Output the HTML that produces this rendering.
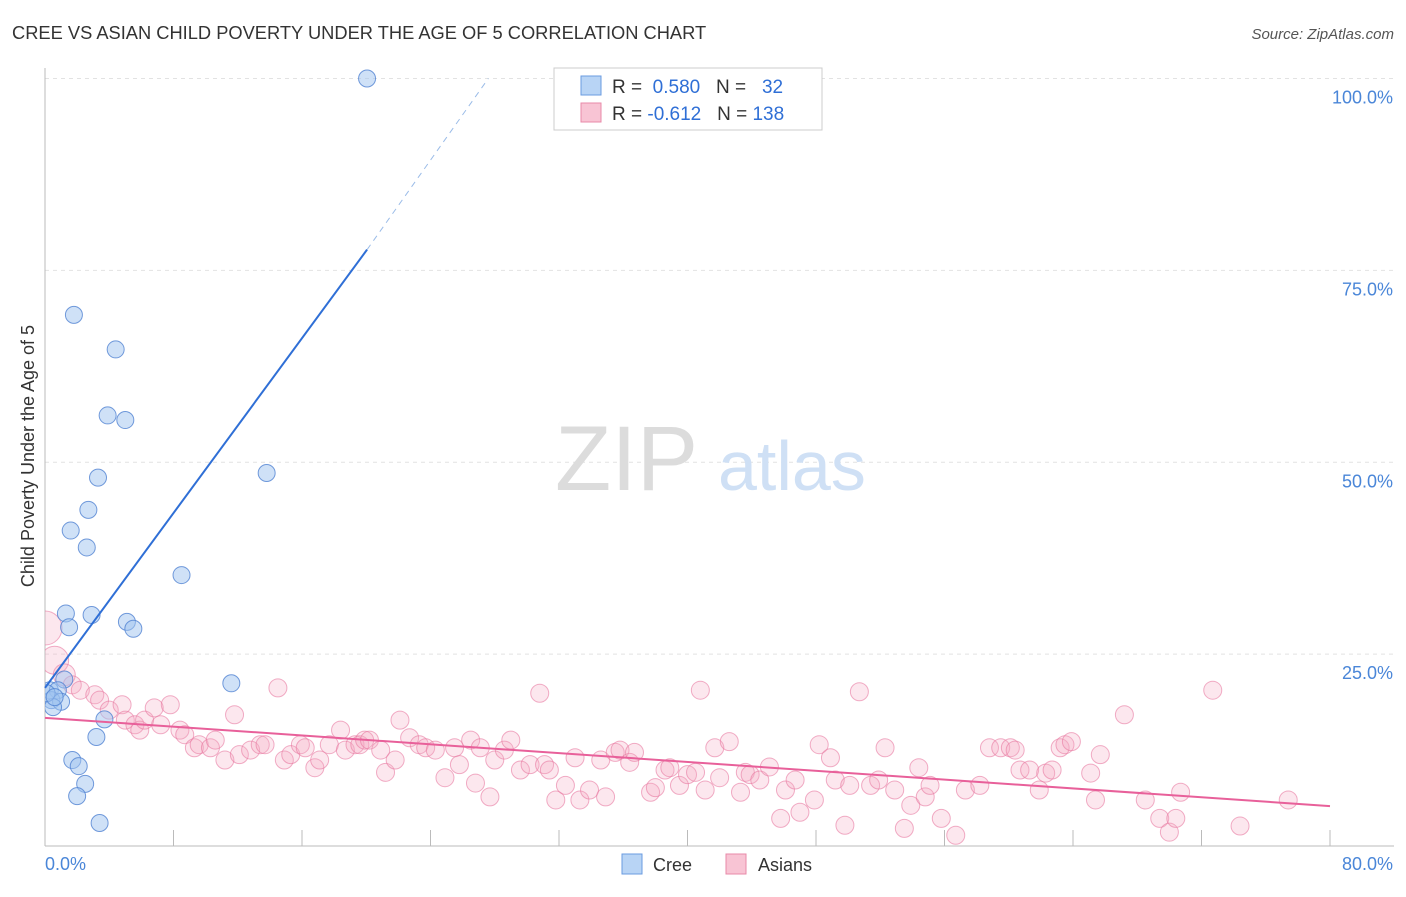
<!DOCTYPE html>
<html><head><meta charset="utf-8">
<style>
html,body{margin:0;padding:0;background:#fff;}
body{width:1406px;height:892px;overflow:hidden;font-family:"Liberation Sans",sans-serif;}
svg text{font-family:"Liberation Sans",sans-serif;}
</style></head>
<body>
<svg id="chart" width="1406" height="892" viewBox="0 0 1406 892">
  <defs><clipPath id="plotclip"><rect x="45" y="60" width="1360" height="786"/></clipPath></defs>
  <text x="12" y="39" font-size="18.3" fill="#333">CREE VS ASIAN CHILD POVERTY UNDER THE AGE OF 5 CORRELATION CHART</text>
  <text x="1394" y="39" font-size="15" fill="#555" font-style="italic" text-anchor="end">Source: ZipAtlas.com</text>
  <g id="grid"></g>
  <g>
    <text x="555" y="490" font-size="92" fill="#dcdcdc" font-family="Liberation Serif">ZIP</text>
    <text x="718" y="490" font-size="70" fill="#cfe0f5">atlas</text>
  </g>
  <text transform="translate(34,456) rotate(-90)" font-size="18" fill="#333" text-anchor="middle">Child Poverty Under the Age of 5</text>
  <g id="axes"></g>
  <g id="asian" clip-path="url(#plotclip)"></g>
  <g id="cree" clip-path="url(#plotclip)"></g>
  <g id="lines"></g>
  <g>
    <rect x="554" y="68" width="268" height="62" fill="#fff" stroke="#ccc"/>
    <rect x="581" y="76" width="20" height="19" fill="#b8d4f5" stroke="#6a9be0"/>
    <text x="612" y="93" font-size="19" fill="#333">R = <tspan fill="#2f6fd6">&#160;0.580</tspan>&#160;&#160;&#160;N = <tspan fill="#2f6fd6">&#160;&#160;32</tspan></text>
    <rect x="581" y="103" width="20" height="19" fill="#f8c4d4" stroke="#e88aa8"/>
    <text x="612" y="120" font-size="19" fill="#333">R = <tspan fill="#2f6fd6">-0.612</tspan>&#160;&#160;&#160;N = <tspan fill="#2f6fd6">138</tspan></text>
  </g>
  <g>
    <rect x="622" y="854" width="20" height="20" fill="#b8d4f5" stroke="#6a9be0"/>
    <text x="653" y="871" font-size="18" fill="#333">Cree</text>
    <rect x="726" y="854" width="20" height="20" fill="#f8c4d4" stroke="#e88aa8"/>
    <text x="758" y="871" font-size="18" fill="#333">Asians</text>
  </g>
</svg>
<script>
const xTicks=[0,8,16,24,32,40,48,56,64,72,80];
const yGrid=[25,50,75,100];
const yTickLabels=["25.0%","50.0%","75.0%","100.0%"];
const xTickLabels=["0.0%","80.0%"];
const creeX=[20.05,1.8,4.4,3.9,5.0,3.3,13.8,2.7,1.6,2.6,8.5,1.3,2.9,1.5,5.1,5.5,1.2,11.6,0.3,0.8,0.4,1.0,0.5,3.7,3.2,1.7,2.1,2.5,2.0,3.4,0.1,0.6];
const creeY=[100,69.2,64.7,56.1,55.5,48.0,48.6,43.8,41.1,38.9,35.3,30.3,30.1,28.5,29.2,28.3,21.7,21.2,20.3,20.3,19.0,18.8,18.1,16.5,14.2,11.2,10.4,8.1,6.5,3.0,19.9,19.4];
const asianX=[0,0.6,1.2,1.7,2.2,3.1,3.4,4.0,4.8,5.0,5.6,5.9,6.2,6.8,7.2,7.8,8.4,8.7,9.3,9.6,10.3,10.6,11.2,11.8,12.1,12.8,13.4,13.7,14.5,14.9,15.3,15.9,16.2,16.8,17.1,17.7,18.4,18.7,19.3,19.6,19.9,20.2,20.9,21.2,21.8,22.1,22.7,23.3,23.7,24.3,24.9,25.5,25.8,26.5,26.8,27.1,27.7,28.0,28.6,29.0,29.6,30.2,30.8,31.1,31.4,31.8,32.4,33.0,33.3,33.9,34.6,34.9,35.5,35.8,36.4,36.7,37.7,38.0,38.6,38.9,39.5,40.0,40.5,40.8,41.1,41.7,42.0,42.6,43.3,43.6,43.9,44.5,45.1,45.8,46.1,46.7,47.0,47.9,48.2,48.9,49.2,49.8,50.1,50.7,51.4,51.9,52.3,52.9,53.5,53.9,54.4,54.8,55.1,55.8,56.7,57.3,58.2,58.8,59.5,60.1,60.4,60.7,61.3,61.9,62.3,62.7,63.2,63.5,63.9,65.1,65.4,65.7,67.2,68.5,69.4,70.0,70.4,70.7,72.7,74.4,77.4];
const asianY=[28.4,24.2,22.3,21.0,20.3,19.7,19.0,17.7,18.4,16.4,15.8,15.1,16.4,18.0,15.8,18.4,15.1,14.5,12.8,13.2,12.8,13.8,11.2,17.1,11.9,12.5,13.2,13.2,20.6,11.2,11.9,13.2,12.8,10.2,11.2,13.2,15.1,12.5,13.2,13.2,13.8,13.8,12.5,9.6,11.2,16.4,14.1,13.2,12.8,12.5,8.9,12.8,10.6,13.8,8.2,12.8,6.4,11.2,12.5,13.8,9.9,10.6,19.9,10.6,9.9,6.0,7.9,11.5,6.0,7.3,11.2,6.4,12.2,12.5,10.9,12.2,7.0,7.6,9.9,10.2,7.9,9.3,9.6,20.3,7.3,12.8,8.9,13.6,7.0,9.6,9.3,8.6,10.3,3.6,7.3,8.6,4.4,6.0,13.2,11.5,8.6,2.7,7.9,20.1,7.9,8.6,12.8,7.3,2.3,5.3,10.2,6.4,7.9,3.6,1.4,7.3,7.9,12.8,12.8,12.8,12.5,9.9,9.9,7.3,9.5,9.9,12.8,13.2,13.6,9.5,6.0,11.9,17.1,6.0,3.6,1.8,3.6,7.0,20.3,2.6,6.0];
const creeTrend=[[0,20.6],[20.05,77.7],[27.6,100]];
const asianTrend=[[0,16.7],[80,5.2]];

const NS="http://www.w3.org/2000/svg";
const X=v=>45+v*(1285/80);
const Y=v=>846-v*7.675;
function mk(tag,attrs,parent){const e=document.createElementNS(NS,tag);for(const k in attrs)e.setAttribute(k,attrs[k]);parent.appendChild(e);return e;}
const grid=document.getElementById('grid'),axes=document.getElementById('axes');
yGrid.forEach((v,i)=>{
  const l=mk('line',{x1:45,x2:1394,y1:Y(v),y2:Y(v),stroke:'#e2e2e2','stroke-dasharray':'4,4'},grid);
  
  
  const t=mk('text',{x:1393,y:Y(v)+25,'font-size':18,fill:'#4a86d8','text-anchor':'end'},axes);
  t.textContent=yTickLabels[i];
  
  
});
let ax=mk('line',{x1:45,x2:45,y1:68,y2:846,stroke:'#bbb'},axes);


ax=mk('line',{x1:45,x2:1394,y1:846,y2:846,stroke:'#bbb'},axes);


xTicks.forEach(v=>{
  const t=mk('line',{x1:X(v),x2:X(v),y1:830,y2:846,stroke:'#bbb'},axes);
  
  
});
let xl=mk('text',{x:45,y:870,'font-size':18,fill:'#4a86d8'},axes);xl.textContent=xTickLabels[0];


xl=mk('text',{x:1393,y:870,'font-size':18,fill:'#4a86d8','text-anchor':'end'},axes);xl.textContent=xTickLabels[1];



const ag=document.getElementById('asian');
asianX.forEach((v,i)=>{
  const r=i===0?17:i===1?14:i===2?11:9;
  const c=mk('circle',{cx:X(v),cy:Y(asianY[i]),r:r,fill:'rgba(245,170,195,0.28)',stroke:'rgba(232,120,160,0.6)','stroke-width':1},ag);
  
  
});
const cg=document.getElementById('cree');
creeX.forEach((v,i)=>{
  const c=mk('circle',{cx:X(v),cy:Y(creeY[i]),r:8.5,fill:'rgba(160,195,240,0.5)',stroke:'rgba(80,130,210,0.8)','stroke-width':1},cg);
  
  
});
const lg=document.getElementById('lines');
let ln=mk('line',{x1:X(creeTrend[0][0]),y1:Y(creeTrend[0][1]),x2:X(creeTrend[1][0]),y2:Y(creeTrend[1][1]),stroke:'#2f6fd6','stroke-width':2},lg);


ln=mk('line',{x1:X(creeTrend[1][0]),y1:Y(creeTrend[1][1]),x2:X(creeTrend[2][0]),y2:Y(creeTrend[2][1]),stroke:'#9bbce8','stroke-width':1,'stroke-dasharray':'6,5'},lg);


ln=mk('line',{x1:X(asianTrend[0][0]),y1:Y(asianTrend[0][1]),x2:X(asianTrend[1][0]),y2:Y(asianTrend[1][1]),stroke:'#e8609a','stroke-width':2},lg);


</script>
</body></html>
